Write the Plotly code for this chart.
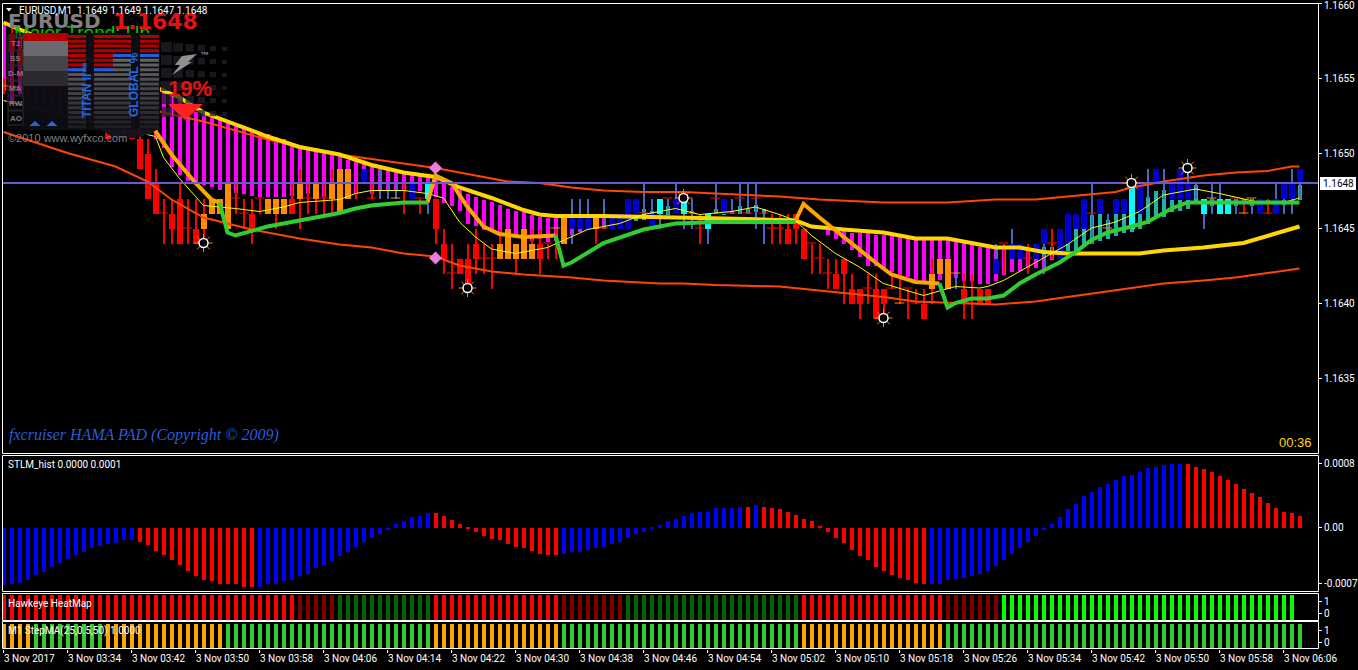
import plotly.graph_objects as go

W, H = 1358, 670
# ---------- candles (price = 1.16 + n/10000) ----------
kind = list("rrrrrrrrrr" "rrrrrrrrrr" "rrrrroooor" "rrrooor" "oro" "rooorbrccb" "rbrcrrrrrr" "rrooooorro"
            "obbbocbbbb" "cbccbccrcc" "bcccccrrrr" "rrrrrrrrrr" "rrorrrooob" "rrrrbrbbrb" "brbbbbcbbb"
            "bcbcbcbbbc" "cbcccobbrb" "bbb")
opens = [55,58,57,56,56,55,55,54,54,53, 53,53,52,52,52,52,52,51,50,48, 46,46,47,45,45,45,46,46,45,47,
         46,46,47,46,46,46,47,47,47,47, 47,47,46,47,48,48,47,48,48,47, 48,47,47,48,47,44,42,43,43,44,
         43,43,43,43,43,43,43,44,44,45, 44,45,45,45,45,45,45,45,45,46, 46,45,47,47,46,47,46,45,46,47,
         46,46,47,46,47,46,45,45,45,46, 45,44,43,42,42,43,41,41,41,41, 41,41,40,41,40,40,41,42,41,42,
         41,40,41,41,42,44,43,43,43,43, 44,44,43,44,45,45,46,46,45,46, 46,48,46,48,48,48,47,47,47,48,
         47,47,47,47,47,46,47,46,46,46, 47,47,49]
highs = [55,59,58,57,57,56,56,55,55,54, 54,54,53,53,53,53,52,52,51,49, 47,47,48,47,47,47,47,47,48,48,
         47,47,47,47,47,47,48,49,48,48, 48,49,49,49,48,49,48,49,48,48, 48,48,47,48,47,45,44,43,44,45,
         44,44,45,45,44,45,45,45,44,45, 46,47,47,47,46,47,46,46,47,47, 48,47,47,47,48,47,47,46,46,48,
         47,47,48,48,48,46,46,46,46,46, 45,44,44,43,43,43,42,41,42,42, 41,42,42,41,41,41,43,43,43,42,
         42,42,41,41,44,44,45,44,44,44, 45,45,45,46,46,47,48,47,46,47, 47,48,48,49,49,49,48,49,49,48,
         47,48,48,47,47,47,47,47,47,48, 48,49,49]
lows = [54,54,55,55,55,54,54,53,53,53, 52,52,52,51,52,52,51,49,47,46, 44,44,44,44,44,44,46,46,45,46,
        45,44,46,46,45,46,46,45,46,46, 46,46,46,47,47,48,47,47,47,47, 46,47,46,46,44,42,41,42,41,42,
        42,41,43,43,42,43,43,42,43,43, 44,44,45,45,44,45,45,45,45,46, 46,45,45,46,46,45,45,44,44,46,
        46,46,46,46,45,44,44,44,44,44, 43,42,42,41,41,40,40,39,40,39, 39,41,40,39,40,39,40,42,41,41,
        39,39,40,40,42,42,43,43,42,43, 42,43,43,44,45,45,44,46,45,46, 46,45,46,47,48,47,47,47,47,47,
        45,46,46,46,46,46,46,46,46,46, 46,46,47]
closes = [55,57,56,56,55,55,54,54,53,53, 53,52,52,51,52,52,51,49,47,46, 46,45,44,45,44,46,47,47,48,47,
          46,45,47,47,47,47,46,48,47,48, 47,48,49,49,48,49,47,48,48,47, 48,48,47,47,45,43,42,42,41,43,
          43,43,44,45,44,45,44,43,44,45, 46,46,46,46,46,45,46,46,47,47, 46,46,46,47,47,46,46,45,45,47,
          47,46,47,46,47,46,45,45,44,45, 43,44,43,42,41,42,40,40,41,39, 40,41,40,41,40,39,42,43,43,42,
          40,40,40,40,43,44,44,44,43,44, 45,44,45,46,46,47,46,47,45,47, 47,45,48,48,49,48,48,49,48,48,
          46,47,46,46,47,46,47,47,46,47, 48,48,48]

# ---------- HAMA histogram (price = 1.16 + n/100000) ----------
magenta_i = list(range(0,70)) + [71,72,73,75] + list(range(103,132))
magenta_top = [586,580,578,575,572,570,567,565,562,560, 557,555,552,550,547,545,542,547,544,541,
               541,539,537,531,528,526,525,523,522,520, 518,515,514,513,511,510,506,505,503,502,
               501,500,499,496,495,493,492,491,490,489, 488,487,487,486,485,481,478,476,473,471,
               469,468,466,463,462,461,459,458,457,457, 457,457,457,457,
               449,449,449,447,447,447,446, 446,446,445,445,444,443,443,443,443,442,
               441,439,438,438,437,437,437,436,436,436, 432,432]
magenta_bot = [542,535,540,538,536,534,532,530,528,526, 524,522,520,518,516,514,512,516,513,510,
               504,491,486,482,481,479,478,476,475,474, 473,472,471,471,471,471,472,472,473,474,
               471,471,471,472,473,480,473,475,476,476, 475,480,475,480,471,467,465,462,453,452,
               449,448,446,445,445,445,442,443,441,442, 446,448,449,450,
               446,443,440,436,431,425,425, 423,421,419,418,416,415,415,416,413,417,
               415,415,413,413,415,419,421,422,424,424, 423,429]
teal_i   = [79,80,81,83,86,89,90,91,92,93,94,95,130,131,133,134,135,136,137,138,139,140,141,142,143,144,145,146,147,148,149,151,154,155,156,158,160,161,162]
teal_top = [459,463,462,465,462,463,461,462,465,463,466,463,438,438,440,450,450,459,460,456,460,460,453,460,471,475,476,469,469,469,479,470,470,470,470,469,469,469,479]
teal_bot = [455,456,460,459,460,460,459,460,460,460,461,460,432,432,435,435,439,440,442,443,445,447,448,450,453,457,458,461,462,463,468,465,465,467,465,467,466,467,469]

# ---------- overlay lines: bar number and price ----------
upper_i = [0,10,20,25,33,42,46,50,54,59,63,67,71,75,80,85,89,95,97,102,110,118,124,129,133,137,139,141,145,150,154,158,161,162]
upper_p = [1.16545,1.16539,1.16527,1.16521,1.16509,1.16499,1.16496,1.16493,1.16490,1.16485,1.16481,1.16480,1.16477,1.16475,1.16474,1.16474,1.16473,1.16472,1.16471,1.16469,1.16467,1.16467,1.16469,1.16469,1.16471,1.16473,1.16474,1.16477,1.16481,1.16485,1.16487,1.16488,1.16491,1.16491]
lower_i = [0,8,14,18,21,25,31,37,42,46,50,54,57,61,65,71,75,82,85,89,97,101,105,110,114,118,124,129,133,137,141,145,150,154,158,162]
lower_p = [1.16514,1.16500,1.16491,1.16481,1.16469,1.16457,1.16449,1.16443,1.16439,1.16437,1.16433,1.16431,1.16425,1.16421,1.16419,1.16417,1.16415,1.16413,1.16413,1.16412,1.16411,1.16409,1.16407,1.16404,1.16401,1.16400,1.16399,1.16401,1.16404,1.16407,1.16410,1.16413,1.16415,1.16417,1.16420,1.16423]
gold_i = [0,22,25,29,33,37,42,46,50,54,57,61,65,67,69,75,85,89,93,99,101,105,110,114,118,122,124,127,130,133,142,145,150,155,158,162]
gold_p = [1.16587,1.16537,1.16527,1.16519,1.16511,1.16504,1.16499,1.16492,1.16487,1.16484,1.16477,1.16470,1.16462,1.16459,1.16458,1.16458,1.16457,1.16457,1.16456,1.16455,1.16451,1.16449,1.16447,1.16443,1.16443,1.16439,1.16437,1.16437,1.16434,1.16433,1.16433,1.16435,1.16437,1.16440,1.16445,1.16451]
thin_i = [0,19,20,22,24,25,29,32,35,37,42,44,46,50,53,55,57,59,61,64,68,70,73,77,80,84,87,89,91,94,97,99,101,104,107,110,114,115,119,122,123,125,129,133,136,139,142,145,149,152,157,160,162]
thin_p = [1.16535,1.16511,1.16497,1.16483,1.16471,1.16465,1.16463,1.16461,1.16464,1.16467,1.16469,1.16473,1.16475,1.16475,1.16473,1.16470,1.16454,1.16444,1.16436,1.16433,1.16437,1.16442,1.16449,1.16453,1.16459,1.16463,1.16459,1.16460,1.16461,1.16464,1.16459,1.16455,1.16445,1.16433,1.16424,1.16413,1.16407,1.16405,1.16411,1.16410,1.16411,1.16415,1.16427,1.16439,1.16450,1.16454,1.16461,1.16472,1.16476,1.16473,1.16467,1.16467,1.16470]
step_orange = [([17,19,21,24,26,27],[1.16530,1.16514,1.16499,1.16480,1.16469,1.16467]),
               ([53,54,56,58,60,62,65,69],[1.16467,1.16485,1.16480,1.16464,1.16451,1.16446,1.16444,1.16445]),
               ([99,100,102,105,109,111,114,117],[1.16455,1.16466,1.16457,1.16444,1.16427,1.16419,1.16414,1.16413])]
step_green = [([27,28,29,33,37,42,44,46,50,53],[1.16467,1.16447,1.16445,1.16451,1.16455,1.16460,1.16463,1.16465,1.16467,1.16467]),
              ([69,70,71,75,80,84,89,99],[1.16445,1.16425,1.16427,1.16440,1.16449,1.16453,1.16454,1.16454]),
              ([117,118,119,121,123,125,127,129,132,134,136,138,141,143,146,148,154,162],
               [1.16413,1.16397,1.16400,1.16403,1.16403,1.16405,1.16413,1.16419,1.16427,1.16434,1.16442,1.16447,1.16451,1.16454,1.16463,1.16467,1.16467,1.16467])]
bid = 1.1648
star_i = [25,58,85,110,141,148]
star_p = [1.1644,1.1641,1.1647,1.1639,1.1648,1.1649]
diamond_i = [54,54]
diamond_p = [1.1649,1.1643]

# ---------- sub-windows ----------
stlm = [-72,-71,-69,-65,-59,-55,-49,-44,-39,-34,-30,-26,-23,-21,-19,-16,-16,
        -18,-22,-29,-34,-40,-47,-54,-61,-65,-67,-70,-71,-71,-74,-74,
        -74,-71,-70,-67,-65,-61,-58,-51,-47,-42,-35,-30,-24,-18,-13,-8,-3,4,8,13,15,18,
        18,14,9,4,-1,-5,-10,-14,-16,-21,-24,-25,-29,-33,-34,-34,
        -33,-31,-30,-28,-25,-24,-20,-18,-13,-8,-5,-1,3,8,11,15,18,19,20,24,24,25,26,
        26,28,26,25,23,20,16,11,8,1,-6,-13,-19,-28,-35,-41,-49,-54,-59,-63,-66,-69,-71,
        -71,-70,-66,-64,-63,-60,-58,-54,-48,-40,-33,-25,-18,-11,-3,5,13,23,30,39,45,51,55,60,65,66,70,74,76,78,79,80,
        79,76,73,69,65,59,54,48,43,38,31,25,20,18,14]
stlm_dir = list("b"*17 + "r"*15 + "b"*22 + "r"*16 + "b"*23 + "r" + "b" + "r"*21 + "b"*32 + "r"*15)
heat_state = list("R"*37 + "D"*5 + "G"*12 + "R"*16 + "D"*8 + "G"*22 + "R"*18 + "D"*7 + "L"*37)
step_state = list("o"*4 + "g"*9 + "o"*15 + "g"*26 + "o"*16 + "g"*30 + "o"*18 + "g"*45)
heat_hi, heat_lo = 1.57, -0.49
step_hi, step_lo = 1.53, -0.39
time_labels = ["3 Nov 2017","3 Nov 03:34","3 Nov 03:42","3 Nov 03:50","3 Nov 03:58","3 Nov 04:06","3 Nov 04:14","3 Nov 04:22",
               "3 Nov 04:30","3 Nov 04:38","3 Nov 04:46","3 Nov 04:54","3 Nov 05:02","3 Nov 05:10","3 Nov 05:18","3 Nov 05:26",
               "3 Nov 05:34","3 Nov 05:42","3 Nov 05:50","3 Nov 05:58","3 Nov 06:06"]
time_ticks = list(range(0, 161, 8))

n = len(opens)
assert all(len(a) == 163 for a in (kind, opens, highs, lows, closes, stlm, stlm_dir, step_state))
FONT = "Roboto"
fig = go.Figure()
def bars(x, base, top, color, width, ya="y"):
    if not x:
        return
    fig.add_trace(go.Bar(x=x, y=[t-b for t, b in zip(top, base)], base=base, width=width,
                         marker=dict(color=color, line=dict(width=0)), xaxis="x", yaxis=ya,
                         showlegend=False, hoverinfo="skip"))

# HAMA bars
bars(magenta_i, [1.16+v/1e5 for v in magenta_bot], [1.16+v/1e5 for v in magenta_top], "#FF00FF", 0.58)
bars(teal_i, [1.16+v/1e5 for v in teal_bot], [1.16+v/1e5 for v in teal_top], "#20B2AA", 0.58)
# wicks
for kinds, col in (("ro", "#FF0000"), ("bc", "#4169C8")):
    idx = [i for i in range(n) if kind[i] in kinds]
    bars(idx, [1.16+lows[i]/1e4 for i in idx], [1.16+highs[i]/1e4 for i in idx], col, 0.1)
# bodies
body_col = dict(r="#FF0000", o="#FF8C00", b="#0000CD", c="#00FFFF")
for k, col in body_col.items():
    idx = [i for i in range(n) if kind[i] == k and opens[i] != closes[i]]
    bars(idx, [1.16+min(opens[i], closes[i])/1e4 for i in idx], [1.16+max(opens[i], closes[i])/1e4 for i in idx], col, 0.85)
# doji ticks
for kinds, col in (("rc", "#FF0000"), ("ob", "#FF8C00")):
    idx = [i for i in range(n) if kind[i] in kinds and opens[i] == closes[i]]
    fig.add_trace(go.Scatter(x=idx, y=[1.16+opens[i]/1e4 for i in idx], mode="markers",
                             marker=dict(symbol="line-ew", size=7, line=dict(width=1, color=col)),
                             showlegend=False, hoverinfo="skip"))

def line(x, y, col, w):
    fig.add_trace(go.Scatter(x=x, y=y, mode="lines", line=dict(color=col, width=w),
                             xaxis="x", yaxis="y", showlegend=False, hoverinfo="skip"))
line(upper_i, upper_p, "#FF4500", 2)
line(lower_i, lower_p, "#FF4500", 2)
line(gold_i, gold_p, "#FFD700", 4)
line(thin_i, thin_p, "#FFFF00", 1)
for xs, ys in step_orange:
    line(xs, ys, "#FFA500", 4)
for xs, ys in step_green:
    line(xs, ys, "#32CD32", 4)
x0, x1 = (2.5-3.5)/8, (1318-3.5)/8
line([x0, x1], [bid, bid], "#6A5ACD", 2)
fig.add_trace(go.Scatter(x=star_i, y=star_p, mode="markers", showlegend=False, hoverinfo="skip",
                         marker=dict(symbol="asterisk-open", size=15, line=dict(width=1, color="white"))))
fig.add_trace(go.Scatter(x=star_i, y=star_p, mode="markers", showlegend=False, hoverinfo="skip",
                         marker=dict(symbol="circle", size=9, color="black", line=dict(width=1.5, color="white"))))
fig.add_trace(go.Scatter(x=diamond_i, y=diamond_p, mode="markers", showlegend=False, hoverinfo="skip",
                         marker=dict(symbol="diamond", size=10, color="#F07CE0")))
# text behind the panel
fig.add_trace(go.Scatter(x=[1.3], y=[1.16602-34/150000], mode="text", text=["Major Trend: Up"],
                         textposition="middle right", textfont=dict(family="Liberation Sans", size=19, color="#00C800"),
                         showlegend=False, hoverinfo="skip"))

# sub windows
for d, col in (("b", "#0000FF"), ("r", "#FF0000")):
    idx = [i for i in range(n) if stlm_dir[i] == d]
    bars(idx, [0]*len(idx), [stlm[i]/1e5 for i in idx], col, 0.58, "y2")
for s, col in dict(R="#FF0000", D="#800000", G="#006400", L="#00FF00").items():
    idx = [i for i, v in enumerate(heat_state) if v == s]
    bars(idx, [heat_lo]*len(idx), [heat_hi]*len(idx), col, 0.58, "y3")
for s, col in dict(o="#FFA500", g="#32CD32").items():
    idx = [i for i, v in enumerate(step_state) if v == s]
    bars(idx, [step_lo]*len(idx), [step_hi]*len(idx), col, 0.385, "y4")

# layout helpers
fx = lambda p: p/W
fy = lambda p: 1-p/H
shapes, ann = [], []
def rect(x0, y0, x1, y1, fill=None, line=None, op=1, lw=1):
    shapes.append(dict(type="rect", xref="paper", yref="paper", x0=fx(x0), x1=fx(x1), y0=fy(y1), y1=fy(y0),
                       fillcolor=fill or "rgba(0,0,0,0)", line=dict(color=line or "rgba(0,0,0,0)", width=lw if line else 0),
                       opacity=op, layer="above"))
def path(pts, fill, op=1):
    d = "M " + " L ".join(f"{fx(a):.5f},{fy(b):.5f}" for a, b in pts) + " Z"
    shapes.append(dict(type="path", xref="paper", yref="paper", path=d, fillcolor=fill, line=dict(width=0), opacity=op, layer="above"))
def text(x, y, t, size=10, col="white", fam=FONT, anchor="left", angle=0, bold=False, italic=False):
    if bold: t = f"<b>{t}</b>"
    if italic: t = f"<i>{t}</i>"
    ann.append(dict(xref="paper", yref="paper", x=fx(x), y=fy(y), text=t, showarrow=False, xanchor=anchor, yanchor="middle",
                    textangle=angle, font=dict(size=size, color=col, family=fam), borderpad=0))

# --- TITAN panel ---
rect(7, 33, 23, 130, "#0C0C14", op=0.55)
rect(23, 33, 160, 130, "#0C0C14", op=0.97)
path([(100,130),(160,130),(160,128),(150,134),(135,138),(115,138)], "#14141C", 0.97)
rect(23, 33, 68, 41, "#B00000")
for k, c in enumerate(("#6A6A70", "#46464A", "#2A2A30")):
    rect(23, 41+15*k, 68, 56+15*k, c)
cols = [(68,86,70),(94,113,70),(113,131,55),(140,159,55)]
for a, b, blue_at in cols:
    for r in range(20):
        y = 35+r*4.75
        g = max(30, 125-5*r)
        c = f"rgb({g},{g},{g+3})"
        if y < blue_at-3:
            c = "#B00000"
        elif y < blue_at+2:
            c = "#2060E0"
        rect(a, y, b, y+3, c)
for r, lab in enumerate(["T2","SS","D-M","MA","RW","AO"]):
    rect(8, 36+r*15, 23, 50+r*15, None, "#2A2A2E")
    text(15.5, 43.5+r*15, lab, 8, "#7A7A7E", "Liberation Sans", "center", bold=True)
for tx in (35, 52):
    path([(tx-5.5,126),(tx+5.5,126),(tx,121)], "#2468E0")
text(87, 90, "TITAN II™", 12, "#2468E0", "Liberation Sans", "center", -90, bold=True)
text(134, 85, "GLOBAL %", 12, "#2468E0", "Liberation Sans", "center", -90, bold=True)
# logo squares
for c in range(6):
    for r in range(6):
        s = 11-1.2*c
        rect(161+c*12.2, 42+r*13+c, 161+c*12.2+s, 42+r*13+c+s-1, "#20202A", op=0.75)
path([(182,56),(197,54),(188,62),(192,62),(172,75),(180,65),(175,65)], "#909090")
text(199, 55, "™", 9, "#909090", "Liberation Sans", bold=True)
path([(168,104),(203,104),(185,120)], "#FF2020")
text(167, 88, "19%", 22, "#E81010", "Liberation Sans", bold=True)
text(7, 138, "©2010 www.wyfxco.com", 11, "#808080", "Liberation Sans")
text(7, 21, "EURUSD", 20, "#808080", "DejaVu Sans", bold=True)
text(112, 21, "1.1648", 22, "#E81010", "DejaVu Sans", bold=True)
path([(6,8),(12,8),(9,11.5)], "white")
text(18, 10, "EURUSD,M1  1.1649 1.1649 1.1647 1.1648", 10, "white")
text(8, 435, "fxcruiser HAMA PAD (Copyright © 2009)", 16, "#2A5CDC", "Liberation Serif", italic=True)
text(1313, 442, "00:36", 13, "#FFD700", "Liberation Sans", "right")
text(7, 464, "STLM_hist 0.0000 0.0001", 10, "white")
text(7, 603, "Hawkeye HeatMap", 10, "white")
text(7, 631, "M1 StepMA(25,0.5,50) 1.0000", 10, "white")
text(1323, 6, "1.1660", 10, "white")
text(1322, 184, "1.1648", 10, "black", anchor="left")
shapes.append(dict(type="rect", xref="paper", yref="paper", x0=fx(1320), x1=fx(1356), y0=fy(190), y1=fy(177),
                   fillcolor="white", line=dict(width=0), layer="above"))
# pane borders
for a, b in ((3.5,453.5),(455.5,591.5),(593.5,620.5),(621.5,648.5)):
    rect(2.5, a, 1318.5, b, None, "white")

def yax(a, b, lo_hi, vals, labs):
    return dict(domain=[fy(b), fy(a)], range=lo_hi, anchor="x", side="right", showgrid=False, zeroline=False,
                tickmode="array", tickvals=vals, ticktext=labs, ticks="outside", ticklen=3, tickcolor="white",
                ticklabeloverflow="allow", tickfont=dict(size=10, color="white", family=FONT), showline=False, automargin=False)
main_vals = [1.1660,1.1655,1.1650,1.1645,1.1640,1.1635]
main_labs = [""] + [f"{v:.4f}" for v in main_vals[1:]]
fig.update_layout(
    template="none",
    width=W, height=H, margin=dict(l=0, r=0, t=0, b=0, pad=0), autosize=False,
    paper_bgcolor="black", plot_bgcolor="black", barmode="overlay", bargap=0, showlegend=False,
    shapes=shapes, annotations=ann,
    xaxis=dict(domain=[fx(2.5), fx(1318)], range=[x0, x1], anchor="y4", showgrid=False, zeroline=False,
               tickmode="array", tickvals=time_ticks, ticktext=time_labels, ticks="outside", ticklen=3,
               tickcolor="white", ticklabelposition="outside right", tickangle=0, automargin=False,
               ticklabeloverflow="allow", tickfont=dict(size=10, color="white", family=FONT), showline=False),
    yaxis=yax(1.5, 453.5, [1.16602-453.5/150000, 1.16601], main_vals, main_labs),
    yaxis2=yax(455.5, 591.5, [-64.5/80000, 71.5/80000], [0.0008, 0, -0.0007], ["0.0008","0.00","-0.0007"]),
    yaxis3=yax(593.5, 620.5, [(613.5-620.5)/11.8, (613.5-593.5)/11.8], [1, 0], ["1","0"]),
    yaxis4=yax(621.5, 648.5, [(642.7-648.5)/12.7, (642.7-621.5)/12.7], [1, 0], ["1","0"]),
)
fig.write_html("out.html", config=dict(displayModeBar=False),
               post_script="document.body.style.margin='0';document.body.style.overflow='hidden';")
